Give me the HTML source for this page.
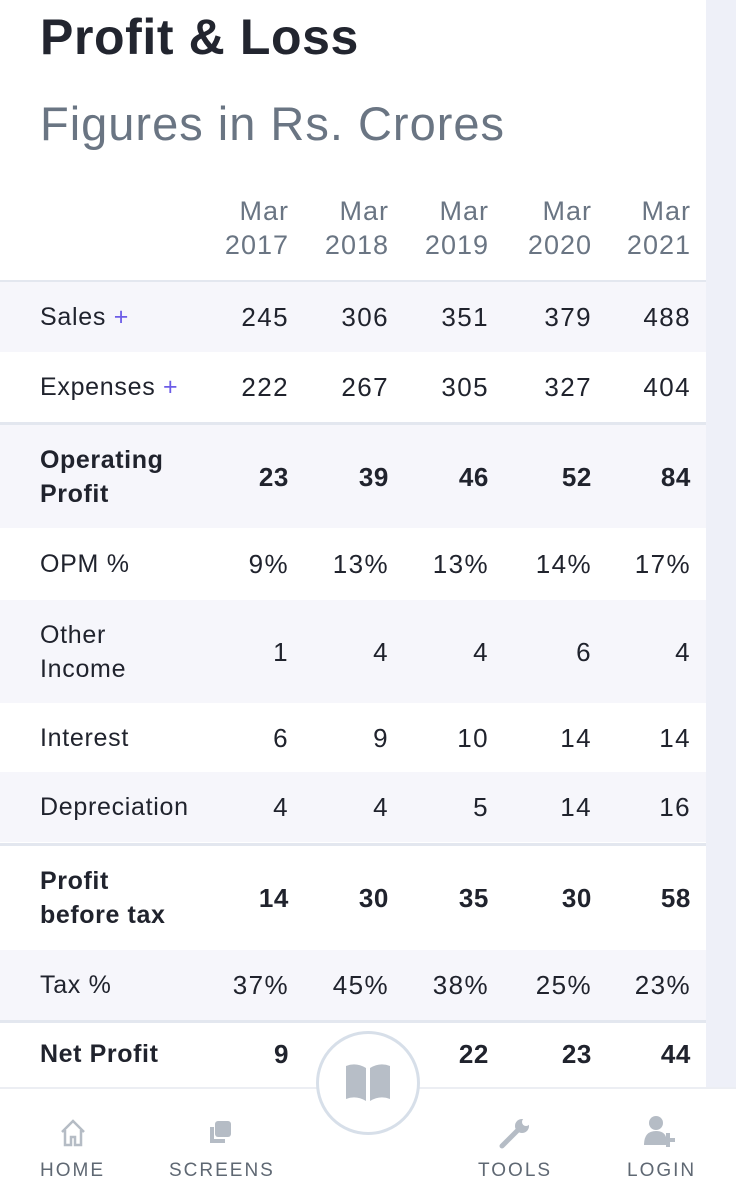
<!DOCTYPE html>
<html><head><meta charset="utf-8"><style>
*{margin:0;padding:0;box-sizing:border-box}
body{width:736px;height:1200px;overflow:hidden;background:#fff;font-family:"Liberation Sans",sans-serif;color:#20232d;position:relative}
#strip{position:absolute;left:706px;top:0;width:30px;height:1200px;background:#eef0f8}
h1{position:absolute;left:40px;top:8px;font-size:50px;font-weight:700;letter-spacing:0.6px;color:#22252f}
h2{position:absolute;left:40px;top:96px;font-size:47px;font-weight:400;color:#6a7583;letter-spacing:1px}
.row{position:absolute;left:0;width:706px}
.sh{background:#f6f6fb}
.lab{position:absolute;left:40px;font-size:25px;line-height:34px;letter-spacing:0.7px}
.v{position:absolute;font-size:26px;text-align:right;width:100px;line-height:34px;letter-spacing:1.4px}
.b{font-weight:700;letter-spacing:0.6px}
.plus{color:#6c5ce7}
.hd{color:#6a7583}
.bd{position:absolute;left:0;width:706px;height:3px;background:#e3e7ef}
#nav{position:absolute;left:0;top:1087px;width:736px;height:113px;background:#fff;border-top:2px solid #eceef3}
.ni{position:absolute;top:1160px;font-size:19px;letter-spacing:2px;color:#5f6873}
#fab{position:absolute;left:316px;top:1031px;width:104px;height:104px;border-radius:50%;border:3px solid #d7dfe9;background:#fff}
</style></head><body>
<div id="strip"></div>
<h1>Profit &amp; Loss</h1>
<h2>Figures in Rs. Crores</h2>
<div id="tbl"></div>
<div id="nav"></div>
<div id="fab">
<svg width="104" height="104" viewBox="0 0 104 104" style="position:absolute;left:-3px;top:-3px"><path d="M30 35 Q40 31 50 37 L50 70 Q40 64 30 68Z M54 37 Q64 31 74 35 L74 68 Q64 64 54 70Z" fill="#b7bec7"/></svg></div>
<svg style="position:absolute;left:58px;top:1118px" width="30" height="30"><path d="M4 14 L15 3 L26 14 M7 12 V27 H13 V19 H17 V27 H23 V12" fill="none" stroke="#b5bcc5" stroke-width="2.5"/></svg>
<svg style="position:absolute;left:205px;top:1118px" width="30" height="30"><rect x="10" y="3" width="16" height="16" rx="3" fill="#b5bcc5"/><path d="M7 9 V23 H20" fill="none" stroke="#b5bcc5" stroke-width="4"/></svg>
<svg style="position:absolute;left:498px;top:1116px" width="36" height="34"><path d="M4 30 L20 14" stroke="#b5bcc5" stroke-width="5" stroke-linecap="round"/><circle cx="24" cy="10" r="7" fill="#b5bcc5"/><circle cx="28" cy="6" r="4" fill="#fff"/></svg>
<svg style="position:absolute;left:642px;top:1115px" width="40" height="34"><circle cx="14" cy="8" r="7" fill="#b5bcc5"/><path d="M2 30 Q2 16 14 16 Q22 16 24 22 V30Z" fill="#b5bcc5"/><path d="M26 18 V32 M19 25 H33" stroke="#b5bcc5" stroke-width="4"/></svg>
<div class="ni" style="left:40px">HOME</div>
<div class="ni" style="left:169px">SCREENS</div>
<div class="ni" style="left:478px">TOOLS</div>
<div class="ni" style="left:627px">LOGIN</div>
<script>
const years=["Mar 2017","Mar 2018","Mar 2019","Mar 2020","Mar 2021"];
const labels=["Sales","Expenses","Operating Profit","OPM %","Other Income","Interest","Depreciation","Profit before tax","Tax %","Net Profit"];
const sales=["245","306","351","379","488"];
const expenses=["222","267","305","327","404"];
const opProfit=["23","39","46","52","84"];
const opm=["9%","13%","13%","14%","17%"];
const otherIncome=["1","4","4","6","4"];
const interest=["6","9","10","14","14"];
const depreciation=["4","4","5","14","16"];
const pbt=["14","30","35","30","58"];
const tax=["37%","45%","38%","25%","23%"];
const netProfit=["9","","22","23","44"];
const series=[sales,expenses,opProfit,opm,otherIncome,interest,depreciation,pbt,tax,netProfit];
const tops=[282,352,425,528,600,703,772,846,950,1023];
const heights=[70,70,103,72,103,69,70,104,70,62];
const shaded=[1,0,1,0,1,0,1,0,1,0];
const bold=[0,0,1,0,0,0,0,1,0,1];
const plus=[1,1,0,0,0,0,0,0,0,0];
const rights=[289,389,489,592,691];
const tbl=document.getElementById('tbl');
function mk(cls,txt){const d=document.createElement('div');d.className=cls;if(txt!==undefined)d.innerHTML=txt;tbl.appendChild(d);return d;}
years.forEach((y,i)=>{const p=y.split(' ');const d=mk('v hd',p[0]+'<br>'+p[1]);


d.style.left=(rights[i]-100)+'px';d.style.top='194px';d.style.fontSize='27px';d.style.letterSpacing='1px';});
[[280,2],[422,3],[843,3],[1020,3]].forEach(b=>{const d=mk('bd');


d.style.top=b[0]+'px';d.style.height=b[1]+'px';});
labels.forEach((l,r)=>{const row=mk('row'+(shaded[r]?' sh':''));


row.style.top=tops[r]+'px';row.style.height=heights[r]+'px';
let txt=l;if(l==='Operating Profit')txt='Operating<br>Profit';if(l==='Other Income')txt='Other<br>Income';if(l==='Profit before tax')txt='Profit<br>before tax';
if(plus[r])txt+=' <span class="plus">+</span>';
const lab=document.createElement('div');lab.className='lab'+(bold[r]?' b':'');lab.innerHTML=txt;


const lines=txt.includes('<br>')?2:1;lab.style.top=(heights[r]-34*lines)/2+'px';row.appendChild(lab);
series[r].forEach((v,i)=>{const c=document.createElement('div');c.className='v'+(bold[r]?' b':'');c.textContent=v;


c.style.left=(rights[i]-100)+'px';c.style.top=(heights[r]-34)/2+'px';row.appendChild(c);});
tbl.appendChild(row);});
</script>
</body></html>
